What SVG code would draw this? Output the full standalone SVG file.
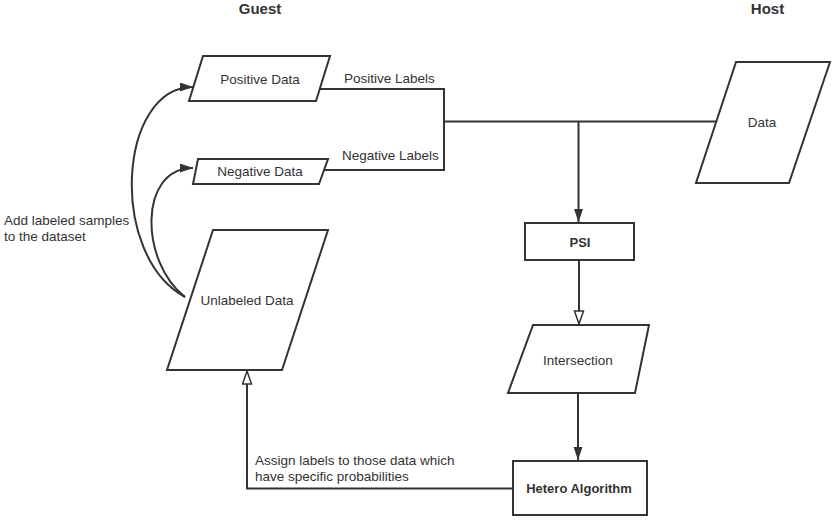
<svg xmlns="http://www.w3.org/2000/svg" width="834" height="520" viewBox="0 0 834 520">
<style>
.shape{fill:#fff;stroke:#333;stroke-width:2;stroke-linejoin:miter}
.edge{fill:none;stroke:#333;stroke-width:2}
.t{font-family:"Liberation Sans",Arial,sans-serif;font-size:13.5px;fill:#333}
.c{text-anchor:middle;dominant-baseline:central}
.b{font-weight:bold;font-size:13px}
.h{font-family:"Liberation Sans",Arial,sans-serif;font-size:15px;font-weight:bold;fill:#333;text-anchor:middle}
</style>
<defs>
<marker id="fill" markerUnits="userSpaceOnUse" markerWidth="14" markerHeight="10" refX="13" refY="4.5" orient="auto">
<path d="M0,0 L13,4.5 L0,9 z" fill="#333"/>
</marker>
<marker id="open" markerUnits="userSpaceOnUse" markerWidth="16" markerHeight="12" refX="14" refY="5.5" orient="auto">
<path d="M1,1 L14,5.5 L1,10 z" fill="#fff" stroke="#333" stroke-width="1.5"/>
</marker>
</defs>
<rect width="834" height="520" fill="#fff"/>
<text class="h" x="260" y="14">Guest</text>
<text class="h" x="767.5" y="14">Host</text>
<g id="connectors">
<path class="edge" d="M320 89 H444 V170 H324"/>
<path class="edge" d="M444 121.5 H716"/>
<path class="edge" d="M578.5 121.5 V222" stroke-width="2.5" marker-end="url(#fill)"/>
<path class="edge" d="M579 260 V324" marker-end="url(#open)"/>
<path class="edge" d="M578 393 V460" marker-end="url(#fill)"/>
<path class="edge" d="M513 488.5 H247 V371" marker-end="url(#open)"/>
<path class="edge" d="M185 297 C108 255, 118 87, 193 87" marker-end="url(#fill)"/>
<path class="edge" d="M185 297 C140 262, 138 168, 193 168" marker-end="url(#fill)"/>
<text class="t" x="344" y="82.5">Positive Labels</text>
<text class="t" x="342" y="160">Negative Labels</text>
<text class="t" x="255" y="464.5">Assign labels to those data which</text>
<text class="t" x="255" y="481">have specific probabilities</text>
<text class="t" x="4" y="225">Add labeled samples</text>
<text class="t" x="4" y="241">to the dataset</text>
</g>
<g id="positive-data">
<polygon class="shape" points="203,56 330,56 316,101 189,101"/>
<text class="t c" x="260" y="79">Positive Data</text>
</g>
<g id="negative-data">
<polygon class="shape" points="198,159 328,159 319,184 193,184"/>
<text class="t c" x="260" y="171.5">Negative Data</text>
</g>
<g id="unlabeled-data">
<polygon class="shape" points="213,230 328,230 282,370 167,370"/>
<text class="t c" x="247" y="300">Unlabeled Data</text>
</g>
<g id="host-data">
<polygon class="shape" points="736,62 830,62 789,183 696,183"/>
<text class="t c" x="762" y="122">Data</text>
</g>
<g id="psi">
<rect class="shape" x="525" y="223" width="109" height="37"/>
<text class="t c b" x="580" y="242">PSI</text>
</g>
<g id="intersection">
<polygon class="shape" points="533,325 649,325 635,393 508,393"/>
<text class="t c" x="578" y="360">Intersection</text>
</g>
<g id="hetero">
<rect class="shape" x="513" y="461" width="134" height="54"/>
<text class="t c b" x="579" y="488.5">Hetero Algorithm</text>
</g>
</svg>
